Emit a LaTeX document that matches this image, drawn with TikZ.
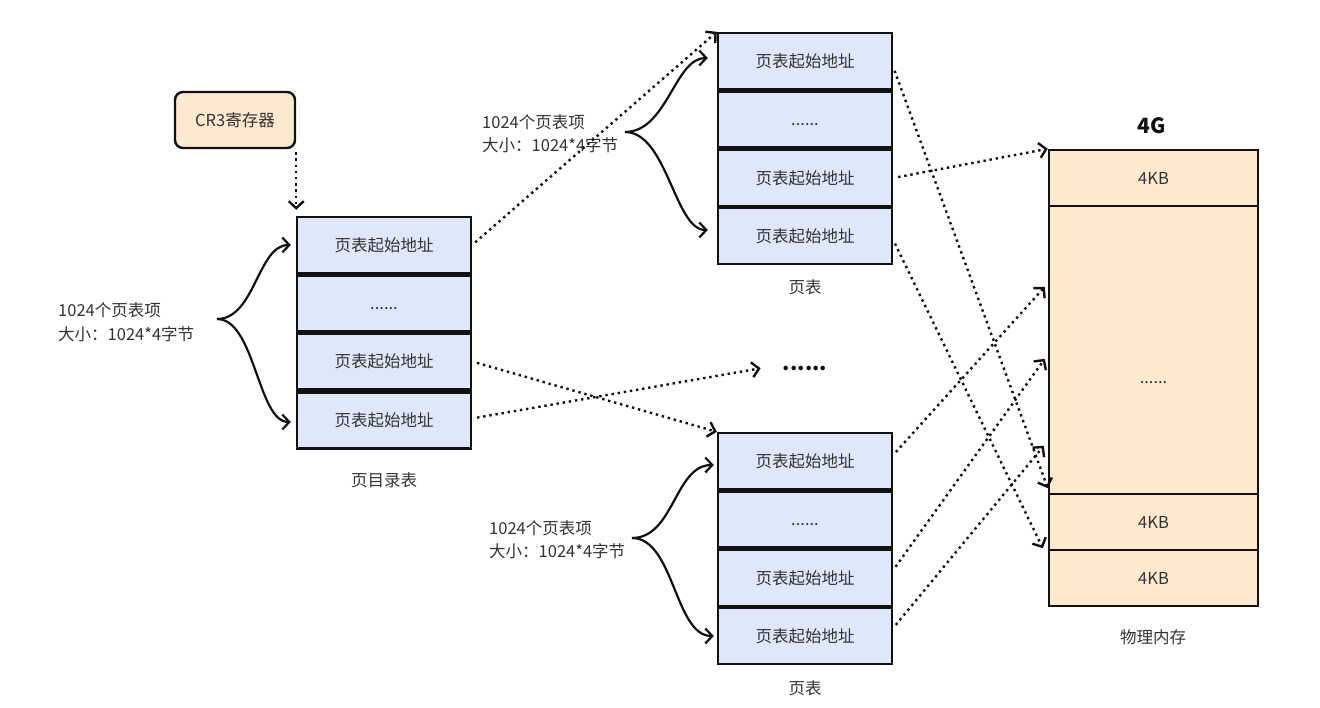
\documentclass[tikz,border=0pt]{standalone}
\usepackage{fontspec}
\setmainfont{Noto Sans CJK SC}
\usetikzlibrary{arrows.meta,calc}
\definecolor{blueF}{HTML}{DFE8FB}
\definecolor{peach}{HTML}{FDE8D0}
\definecolor{txt}{HTML}{333333}
\definecolor{edge}{HTML}{111111}
\newcommand{\rowdots}{\vphantom{页}......}
\begin{document}
\begin{tikzpicture}[x=1pt,y=-1pt,
  every node/.style={font=\fontsize{16.5}{19}\selectfont, text=txt},
  cell/.style={draw=edge, line width=2.4pt, fill=blueF, minimum width=174pt, minimum height=56pt, inner sep=0pt},
  memcell/.style={draw=edge, line width=2.4pt, fill=peach, minimum width=209pt, inner sep=0pt},
  reg/.style={draw=edge, line width=2.4pt, fill=peach, rounded corners=8pt, minimum width=120pt, minimum height=56pt, inner sep=0pt},
  ptr/.style={edge, line width=2.4pt, dash pattern=on 2.4pt off 3.8pt, -{Straight Barb[length=7pt,width=15pt]}},
  fan/.style={edge, line width=2.2pt, -{Straight Barb[length=7pt,width=15pt]}},
  info/.style={align=left, anchor=west, font=\fontsize{16.5}{23.5}\selectfont, inner sep=0pt}
]
\useasboundingbox (0,0) rectangle (1320,708);

% CR3
\node[reg] (cr3) at (235,120) {CR3寄存器};

% page directory
\node[cell] (pd1) at (384,245) {页表起始地址};
\node[cell] (pd2) at (384,303.5) {\rowdots};
\node[cell] (pd3) at (384,361.5) {页表起始地址};
\node[cell] (pd4) at (384,420.5) {页表起始地址};
\node (pdcap) at (384,480) {页目录表};

% upper page table
\node[cell] (t1a) at (805,61) {页表起始地址};
\node[cell] (t1b) at (805,119.5) {\rowdots};
\node[cell] (t1c) at (805,178) {页表起始地址};
\node[cell] (t1d) at (805,236) {页表起始地址};
\node (t1cap) at (805,287) {页表};

% lower page table
\node[cell] (t2a) at (805,461) {页表起始地址};
\node[cell] (t2b) at (805,519.5) {\rowdots};
\node[cell] (t2c) at (805,578) {页表起始地址};
\node[cell] (t2d) at (805,636) {页表起始地址};
\node (t2cap) at (805,688) {页表};

% more
\node[font=\fontsize{21}{23}\selectfont\bfseries, text=edge] (more) at (805,368) {......};

% physical memory
\node[memcell, minimum height=56pt] (m1) at (1153.5,178) {4KB};
\node[memcell, minimum height=288pt] (mm) at (1153.5,350) {};
\node[memcell, minimum height=56pt] (m2) at (1153.5,522) {4KB};
\node[memcell, minimum height=56pt] (m3) at (1153.5,578) {4KB};
\node (memdots) at (1153.5,378) {\rowdots};
\node[font=\fontsize{21}{23}\selectfont\bfseries, text=edge] (g4) at (1152,126) {4G};
\node (memcap) at (1153,637) {物理内存};

% info labels
\node[info] (pdinfo) at (58,322) {1024个页表项\\大小：1024*4字节};
\node[info] (t1info) at (482,133.5) {1024个页表项\\大小：1024*4字节};
\node[info] (t2info) at (489,539.5) {1024个页表项\\大小：1024*4字节};

\coordinate (o1) at (217,319);
\coordinate (o2) at (625,132);
\coordinate (o3) at (632,538);

% fans
\draw[fan, shorten >=5pt] (o1) .. controls +(38,0) and +(-38,0) .. (pd1.west);
\draw[fan, shorten >=5pt] (o1) .. controls +(38,0) and +(-38,0) .. ([yshift=-1.5pt]pd4.west);
\draw[fan, shorten >=9pt] (o2) .. controls +(42,0) and +(-42,0) .. ([yshift=3pt]t1a.west);
\draw[fan, shorten >=9pt] (o2) .. controls +(42,0) and +(-42,0) .. ([yshift=6pt]t1d.west);
\draw[fan, shorten >=3pt] (o3) .. controls +(42,0) and +(-42,0) .. ([yshift=-4pt]t2a.west);
\draw[fan, shorten >=3pt] (o3) .. controls +(42,0) and +(-42,0) .. (t2d.west);

% pointers
\draw[ptr, shorten <=3pt, shorten >=6pt] (cr3.south east) -- (cr3.south east |- pd1.north);
\draw[ptr, shorten <=4pt] (pd1.east) -- (t1a.north west);
\draw[ptr, shorten <=5pt] (pd3.east) -- (t2a.north west);
\draw[ptr, shorten <=5pt, shorten >=19pt] ([yshift=2pt]pd4.east) -- ([yshift=3pt]more.west);

% to memory
\draw[ptr, shorten <=5pt] (t1c.east) -- (m1.north west);
\draw[ptr, shorten <=4pt] ([yshift=-6pt]t1a.east) -- ([yshift=7pt]mm.south west);
\draw[ptr, shorten <=4pt] ([yshift=-4pt]t1d.east) -- ([xshift=-5pt,yshift=3pt]m2.south west);
\draw[ptr, shorten <=4pt] ([yshift=6pt]t2a.east) -- ([xshift=-3pt,yshift=-82pt]mm.north west);
\draw[ptr, shorten <=4pt] ([yshift=8pt]t2c.east) -- ([xshift=-3pt,yshift=-154pt]mm.north west);
\draw[ptr, shorten <=4pt] ([yshift=8pt]t2d.east) -- ([xshift=-4pt,yshift=-241pt]mm.north west);
\end{tikzpicture}
\end{document}
